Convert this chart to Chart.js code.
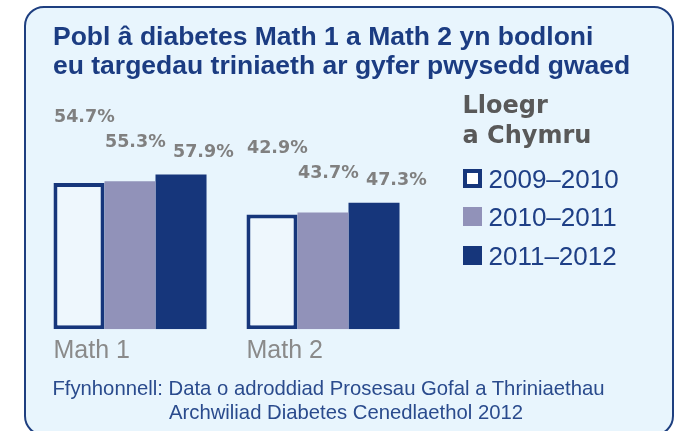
<!DOCTYPE html>
<html>
<head>
<meta charset="utf-8">
<script src="https://cdn.jsdelivr.net/npm/chart.js@4.4.1/dist/chart.umd.min.js"></script>
<style>
  body { margin: 0; width: 675px; height: 431px; overflow: hidden; background: #fff; position: relative;
         font-family: "Liberation Sans", Arial, sans-serif; }
  #panel { position: absolute; left: 24px; top: 6px; width: 650px; height: 430px; box-sizing: border-box;
           border: 2px solid #1e3f80; border-radius: 20px; background: #e8f5fd; }
  #chart { position: absolute; left: 0; top: 0; }
  .txt { position: absolute; white-space: nowrap; }
  #title { left: 53px; top: 22.3px; font-size: 26.5px; line-height: 29px; font-weight: bold; color: #1b3c82; }
  #legendTitle { left: 462.5px; top: 89.6px; font-family: "DejaVu Sans", sans-serif; font-size: 24px;
                 line-height: 30.7px; font-weight: bold; color: #595959; }
  .box { position: absolute; left: 462.7px; width: 19px; height: 19px; box-sizing: border-box; }
  .item { position: absolute; left: 488.5px; font-size: 26px; line-height: 26px; color: #1e3f86; white-space: nowrap; }
  .src { font-size: 20.3px; line-height: 24px; color: #2a4b8d; }
</style>
</head>
<body>
<div id="panel"></div>
<canvas id="chart" width="675" height="431"></canvas>
<div id="title" class="txt">Pobl â diabetes Math 1 a Math 2 yn bodloni<br>eu targedau triniaeth ar gyfer pwysedd gwaed</div>
<div id="legendTitle" class="txt">Lloegr<br>a Chymru</div>
<div id="legend"></div>
<div class="txt src" style="left:52.4px; top:376px;">Ffynhonnell: Data o adroddiad Prosesau Gofal a Thriniaethau</div>
<div class="txt src" style="left:169px; top:400px;">Archwiliad Diabetes Cenedlaethol 2012</div>
<script>
const categories = ["Math 1", "Math 2"];
const years = ["2009–2010", "2010–2011", "2011–2012"];
const values2009 = [54.7, 42.9];
const values2010 = [55.3, 43.7];
const values2011 = [57.9, 47.3];

const navy = "#16367b";
const lavender = "#9192b9";

// staggered value labels, offset from each bar's top-left corner
const valueLabels = {
  id: "valueLabels",
  afterDatasetsDraw(chart) {
    const ctx = chart.ctx;
    const offsets = [[0.5, -66], [0.5, -39], [17.5, -22]];
    ctx.save();
    ctx.font = "bold 17.5px 'DejaVu Sans', sans-serif";
    ctx.fillStyle = "#808080";
    ctx.textAlign = "left";
    ctx.textBaseline = "middle";
    chart.data.datasets.forEach((ds, i) => {
      chart.getDatasetMeta(i).data.forEach((bar, j) => {
        const left = bar.x - bar.width / 2;
        ctx.fillText(ds.data[j].toFixed(1) + "%", left + offsets[i][0], bar.y + offsets[i][1]);
      });
    });
    ctx.restore();
  }
};

const chart = new Chart(document.getElementById("chart"), {
  type: "bar",
  data: {
    labels: categories,
    datasets: [
      { label: years[0], data: values2009, backgroundColor: "#eef7fd", borderColor: navy, borderWidth: 4, borderSkipped: false },
      { label: years[1], data: values2010, backgroundColor: lavender },
      { label: years[2], data: values2011, backgroundColor: navy }
    ]
  },
  options: {
    responsive: false,
    animation: false,
    devicePixelRatio: 1,
    barPercentage: 1,
    categoryPercentage: 0.793,
    layout: { padding: { left: 33.5, right: 255.5, top: 61.8, bottom: 57.7 } },
    plugins: { legend: { display: false }, tooltip: { enabled: false } },
    scales: {
      x: {
        grid: { display: false, drawTicks: false },
        border: { display: false },
        ticks: {
          color: "#8a8a8a",
          font: { family: "'Liberation Sans', Arial, sans-serif", size: 25 },
          padding: 7,
          align: "start",
          labelOffset: -76.5,
          maxRotation: 0,
          autoSkip: false
        }
      },
      y: { display: false, min: 0, max: 100 }
    }
  },
  plugins: [valueLabels]
});

// legend built from the datasets
const legend = document.getElementById("legend");
const boxTops = [169.3, 207.3, 245.7];
chart.data.datasets.forEach((ds, i) => {
  const box = document.createElement("div");
  box.className = "box";
  box.style.top = boxTops[i] + "px";
  if (i === 0) {
    box.style.background = "#ffffff";
    box.style.border = "4px solid " + navy;
  } else {
    box.style.background = ds.backgroundColor;
  }
  legend.appendChild(box);
  const t = document.createElement("div");
  t.className = "item";
  t.style.top = (boxTops[i] - 3) + "px";
  t.textContent = ds.label;
  legend.appendChild(t);
});
</script>
</body>
</html>
